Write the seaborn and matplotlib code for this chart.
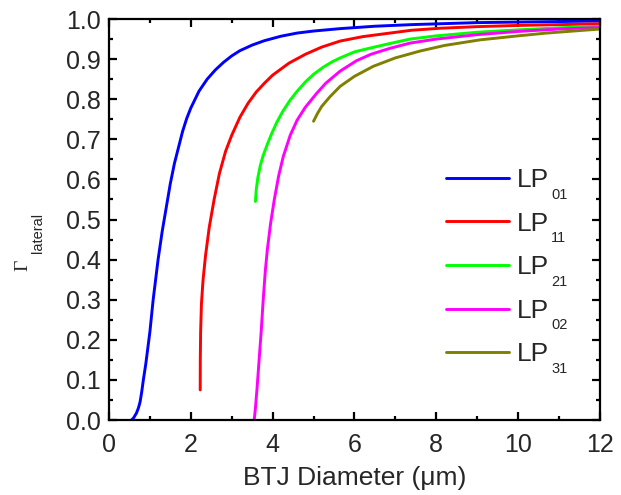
import numpy as np
import pandas as pd
import matplotlib
matplotlib.use("Agg")
import matplotlib.pyplot as plt
import seaborn as sns
from matplotlib.ticker import MultipleLocator, FormatStrFormatter

# Lateral confinement factor vs. buried tunnel junction diameter, per mode
lp01_x = [0.55, 0.6, 0.67, 0.72, 0.76, 0.8, 0.84, 0.9, 0.95, 1.0, 1.08, 1.14, 1.2, 1.3, 1.4, 1.5, 1.6, 1.7,
          1.8, 1.9, 2.0, 2.2, 2.4, 2.6, 2.8, 3.0, 3.2, 3.5, 3.8, 4.2, 4.6, 5.0, 5.65, 6.5, 7.4, 9.0, 12.0]
lp01_y = [0.0, 0.005, 0.017, 0.03, 0.045, 0.07, 0.1, 0.14, 0.18, 0.22, 0.3, 0.35, 0.4, 0.47, 0.53, 0.59, 0.64, 0.68,
          0.72, 0.752, 0.778, 0.82, 0.85, 0.873, 0.892, 0.908, 0.921, 0.935, 0.946, 0.957, 0.965, 0.97, 0.976, 0.982,
          0.986, 0.991, 0.995]

lp11_x = [2.23, 2.232, 2.24, 2.26, 2.3, 2.36, 2.45, 2.57, 2.7, 2.85, 3.0, 3.2, 3.4, 3.6, 3.8, 4.0, 4.4, 4.8, 5.2,
          5.65, 6.2, 6.87, 7.4, 8.1, 9.0, 10.0, 12.0]
lp11_y = [0.075, 0.15, 0.22, 0.29, 0.35, 0.41, 0.48, 0.55, 0.615, 0.67, 0.71, 0.755, 0.79, 0.818, 0.84, 0.86, 0.89,
          0.912, 0.93, 0.945, 0.956, 0.965, 0.972, 0.977, 0.981, 0.984, 0.988]

lp21_x = [3.58, 3.6, 3.64, 3.7, 3.77, 3.88, 3.98, 4.1, 4.25, 4.43, 4.6, 4.8, 5.0, 5.24, 5.45, 5.65, 6.0, 6.4, 6.87,
          7.36, 8.0, 9.0, 10.0, 11.0, 12.0]
lp21_y = [0.545, 0.575, 0.605, 0.635, 0.66, 0.69, 0.715, 0.742, 0.77, 0.798, 0.82, 0.843, 0.862, 0.88, 0.893, 0.903,
          0.918, 0.928, 0.939, 0.95, 0.958, 0.967, 0.973, 0.978, 0.982]

lp02_x = [3.55, 3.58, 3.62, 3.67, 3.72, 3.77, 3.82, 3.87, 3.95, 4.04, 4.15, 4.26, 4.43, 4.6, 4.8, 5.08, 5.3, 5.65,
          6.05, 6.4, 6.87, 7.36, 8.0, 9.0, 10.0, 11.0, 12.0]
lp02_y = [0.0, 0.03, 0.08, 0.15, 0.22, 0.3, 0.37, 0.424, 0.49, 0.549, 0.61, 0.657, 0.71, 0.748, 0.78, 0.815, 0.84,
          0.87, 0.896, 0.912, 0.927, 0.94, 0.95, 0.961, 0.969, 0.975, 0.979]

lp31_x = [5.0, 5.1, 5.2, 5.4, 5.65, 6.0, 6.46, 7.0, 7.6, 8.2, 9.07, 10.0, 10.7, 12.0]
lp31_y = [0.745, 0.765, 0.782, 0.806, 0.832, 0.857, 0.882, 0.903, 0.92, 0.934, 0.948, 0.958, 0.965, 0.975]

modes = ["01", "11", "21", "02", "31"]
xs = [lp01_x, lp11_x, lp21_x, lp02_x, lp31_x]
ys = [lp01_y, lp11_y, lp21_y, lp02_y, lp31_y]
colors = ["#0000ff", "#ff0000", "#00ff00", "#ff00ff", "#808000"]

frames = [pd.DataFrame({"d": x, "g": y, "mode": m}) for x, y, m in zip(xs, ys, modes)]
df = pd.concat(frames, ignore_index=True)

sns.set_theme(style="ticks")
plt.rcParams["font.family"] = ["Liberation Sans", "DejaVu Sans"]

fig = plt.figure(figsize=(6.21, 4.95), dpi=100)
ax = fig.add_axes([0.1755, 0.1515, 0.7905, 0.8101])

sns.lineplot(data=df, x="d", y="g", hue="mode", palette=dict(zip(modes, colors)),
             sort=False, estimator=None, linewidth=2.1, ax=ax, legend=False)

ax.set_xlim(0, 12)
ax.set_ylim(0, 1.0)
ax.xaxis.set_major_locator(MultipleLocator(2))
ax.xaxis.set_minor_locator(MultipleLocator(1))
ax.yaxis.set_major_locator(MultipleLocator(0.1))
ax.yaxis.set_minor_locator(MultipleLocator(0.05))
ax.yaxis.set_major_formatter(FormatStrFormatter("%.1f"))

for s in ax.spines.values():
    s.set_linewidth(1.6)
    s.set_color("black")
ax.tick_params(which="both", direction="in", top=True, right=True, color="black", width=1.6)
ax.tick_params(which="major", length=5.8, labelsize=18)
ax.tick_params(which="minor", length=3)
ax.tick_params(axis="x", which="major", pad=9)
ax.tick_params(axis="y", which="major", pad=6)

ax.set_xlabel("BTJ Diameter (μm)", fontsize=19, labelpad=7)
ax.set_ylabel("")

W, H = fig.bbox.width, fig.bbox.height

# y-axis label: serif capital Gamma with a dropped sans-serif subscript
fig.text(31 / W, 1 - 265 / H, "Γ", family="Liberation Serif", fontsize=14,
         rotation=90, ha="right", va="center")
fig.text(45 / W, 1 - 233 / H, "lateral", fontsize=10.5,
         rotation=90, ha="right", va="center")

handles = [plt.Line2D([], [], color=c, linewidth=2.1) for c in colors]
leg = ax.legend(handles, ["LP"] * len(modes), loc="upper left", bbox_to_anchor=(0.686, 0.628),
                frameon=False, fontsize=19, handlelength=2.4, handletextpad=0.3,
                labelspacing=0.74, borderaxespad=0, borderpad=0)

# mode indices as small subscripts after each "LP"
fig.canvas.draw()
renderer = fig.canvas.get_renderer()
for t, m in zip(leg.get_texts(), modes):
    bb = t.get_window_extent(renderer)
    _, _, d = renderer.get_text_width_height_descent("lp", t.get_fontproperties(), ismath=False)
    base = bb.y0 + d
    fig.text((bb.x1 + 2) / W, (base - 11.6) / H, m, fontsize=10.5, ha="left", va="baseline")

fig.savefig("out.png", dpi=100)
